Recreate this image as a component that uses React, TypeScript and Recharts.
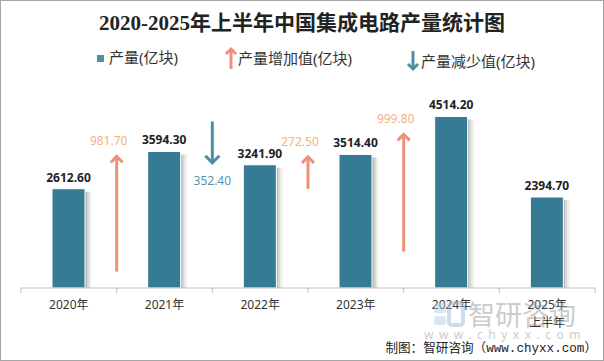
import { ComposedChart, Bar, XAxis, YAxis, Scatter, LabelList } from 'recharts';

const years = ['2020年', '2021年', '2022年', '2023年', '2024年', '2025年上半年'];
const output = [2612.6, 3594.3, 3241.9, 3514.4, 4514.2, 2394.7];

// year-on-year change, drawn as arrows between the two years (right axis, own scale)
const changeAt = [1, 2, 3, 4];
const changeValue = [981.7, -352.4, 272.5, 999.8];
const arrowStart = [140, 1420, 845, 310];

const BAR = '#367b94';
const UP = '#ee917b';
const UP_TEXT = '#f4b183';
const DOWN = '#4f8ca6';
const DOWN_TEXT = '#5b93ad';
const SANS = '"Noto Sans", "Noto Sans CJK SC", sans-serif';

const data = years.map((year, i) => ({ year, value: output[i] }));

const arrows = changeAt.map((b, i) => [
  { x: b, y: arrowStart[i], tip: false, change: changeValue[i] },
  { x: b, y: arrowStart[i] + changeValue[i], tip: true, change: changeValue[i] },
]);

const BarShape = (props: any) => {
  const { x, y, width, height } = props;
  if (!height) return null;
  return (
    <g>
      <rect x={x + width} y={y + 3} width={2} height={height - 3} fill="#b9b9b9" />
      <rect x={x + width + 2} y={y + 3} width={2} height={height - 3} fill="#d6d6d6" />
      <rect x={x + width + 4} y={y + 3} width={2} height={height - 3} fill="#ececec" />
      <rect x={x} y={y} width={width} height={height} fill={BAR} stroke="#fff" strokeWidth={1} />
    </g>
  );
};

const YearTick = (props: any) => {
  const { x, y, payload, index } = props;
  const half = payload.offset ?? 47.8;
  const label = String(payload.value);
  const lines = label.length > 5 ? [label.slice(0, 5), label.slice(5)] : [label];
  return (
    <g>
      <line x1={x - half} y1={y} x2={x - half} y2={y + 5} stroke="#bfbfbf" />
      {index === years.length - 1 && <line x1={x + half} y1={y} x2={x + half} y2={y + 5} stroke="#bfbfbf" />}
      {lines.map((t, i) => (
        <text key={i} x={x} y={y + 21 + i * 18} textAnchor="middle" fontSize={12} fill="#333" fontFamily={SANS}>
          {t}
        </text>
      ))}
    </g>
  );
};

// arrow head + value label drawn at the tip point of each arrow
const ArrowHead = (props: any) => {
  const { cx, cy, payload } = props;
  if (!payload || !payload.tip) return <g />;
  const up = payload.change > 0;
  const color = up ? UP : DOWN;
  const h = up ? 6 : 7;
  const dir = up ? 1 : -1;
  return (
    <g>
      <polyline
        points={`${cx - h},${cy + dir * h} ${cx},${cy} ${cx + h},${cy + dir * h}`}
        fill="none"
        stroke={color}
        strokeWidth={3}
      />
      <text
        x={up ? cx - 8 : cx}
        y={up ? cy - 11 : cy + 22}
        textAnchor="middle"
        fontSize={12}
        fill={up ? UP_TEXT : DOWN_TEXT}
        fontFamily={SANS}
      >
        {Math.abs(payload.change).toFixed(2)}
      </text>
    </g>
  );
};

export default function App() {
  return (
    <div style={{ position: 'absolute', left: 0, top: 0, width: 604, height: 361, background: '#fff' }}>
      <ComposedChart width={604} height={361} data={data} margin={{ top: 98, right: 9, bottom: 33, left: 21 }}>
        <XAxis
          dataKey="year"
          height={40}
          interval={0}
          tickSize={0}
          tickMargin={0}
          tickLine={false}
          axisLine={{ stroke: '#bfbfbf' }}
          tick={<YearTick />}
        />
        <XAxis xAxisId="b" dataKey="x" type="number" domain={[0, 6]} allowDataOverflow hide />
        <YAxis yAxisId="left" domain={[0, 5000]} hide />
        <YAxis yAxisId="arr" dataKey="y" type="number" orientation="right" domain={[0, 1620]} allowDataOverflow hide />
        <Bar yAxisId="left" dataKey="value" barSize={33} shape={<BarShape />} isAnimationActive={false}>
          <LabelList
            dataKey="value"
            position="top"
            offset={7}
            formatter={(v: any) => Number(v).toFixed(2)}
            style={{ fontSize: 12, fontWeight: 700, fill: '#222', fontFamily: SANS }}
          />
        </Bar>
        {arrows.map((pts, i) => (
          <Scatter
            key={i}
            xAxisId="b"
            yAxisId="arr"
            data={pts}
            dataKey="y"
            line={{ stroke: changeValue[i] > 0 ? UP : DOWN, strokeWidth: 3 }}
            shape={<ArrowHead />}
            isAnimationActive={false}
          />
        ))}
      </ComposedChart>

      <svg width={604} height={361} style={{ position: 'absolute', left: 0, top: 0, pointerEvents: 'none' }}>
        <text x={302} y={30} textAnchor="middle" fontSize={21} fontWeight={700} fill="#222" fontFamily='"Liberation Serif", "Noto Sans CJK SC", serif'>
          2020-2025年上半年中国集成电路产量统计图
        </text>

        <rect x={97} y={55} width={7} height={7} fill="#4b8ea8" />
        <text x={109} y={63} fontSize={15} fill="#333" fontFamily={SANS}>产量(亿块)</text>

        <line x1={231} y1={69} x2={231} y2={50} stroke={UP} strokeWidth={3} />
        <polyline points="226,54 231,49 236,54" fill="none" stroke={UP} strokeWidth={3} />
        <text x={238} y={64} fontSize={15} fill="#333" fontFamily={SANS}>产量增加值(亿块)</text>

        <line x1={413} y1={51} x2={413} y2={69} stroke={DOWN} strokeWidth={3} />
        <polyline points="408,64 413,69 418,64" fill="none" stroke={DOWN} strokeWidth={3} />
        <text x={421} y={67} fontSize={15} fill="#333" fontFamily={SANS}>产量减少值(亿块)</text>

        <g opacity={0.5}>
          <rect x={434} y={303} width={12} height={10} rx={2} fill="#b7cfe2" />
          <rect x={434} y={316} width={12} height={9} rx={2} fill="#b7cfe2" />
          <rect x={449} y={303} width={14} height={22} rx={3} fill="none" stroke="#9fbcd4" strokeWidth={4} />
          <text x={468} y={325} fontSize={27} fill="#9a9a9a" fontFamily={SANS}>智研咨询</text>
          <text x={424} y={339} fontSize={12} fill="#9a9a9a" letterSpacing={5.5} fontFamily={SANS}>www.chyxx.com</text>
        </g>

        <text x={597} y={352} textAnchor="end" fontSize={12.6} fill="#222" fontFamily='"Liberation Mono", "Noto Sans CJK SC", monospace'>
          制图：智研咨询（www.chyxx.com）
        </text>
      </svg>
      <div style={{ position: 'absolute', left: 0, top: 0, width: 604, height: 361, boxSizing: 'border-box', border: '1px solid #a6a6a6', pointerEvents: 'none' }} />
    </div>
  );
}
